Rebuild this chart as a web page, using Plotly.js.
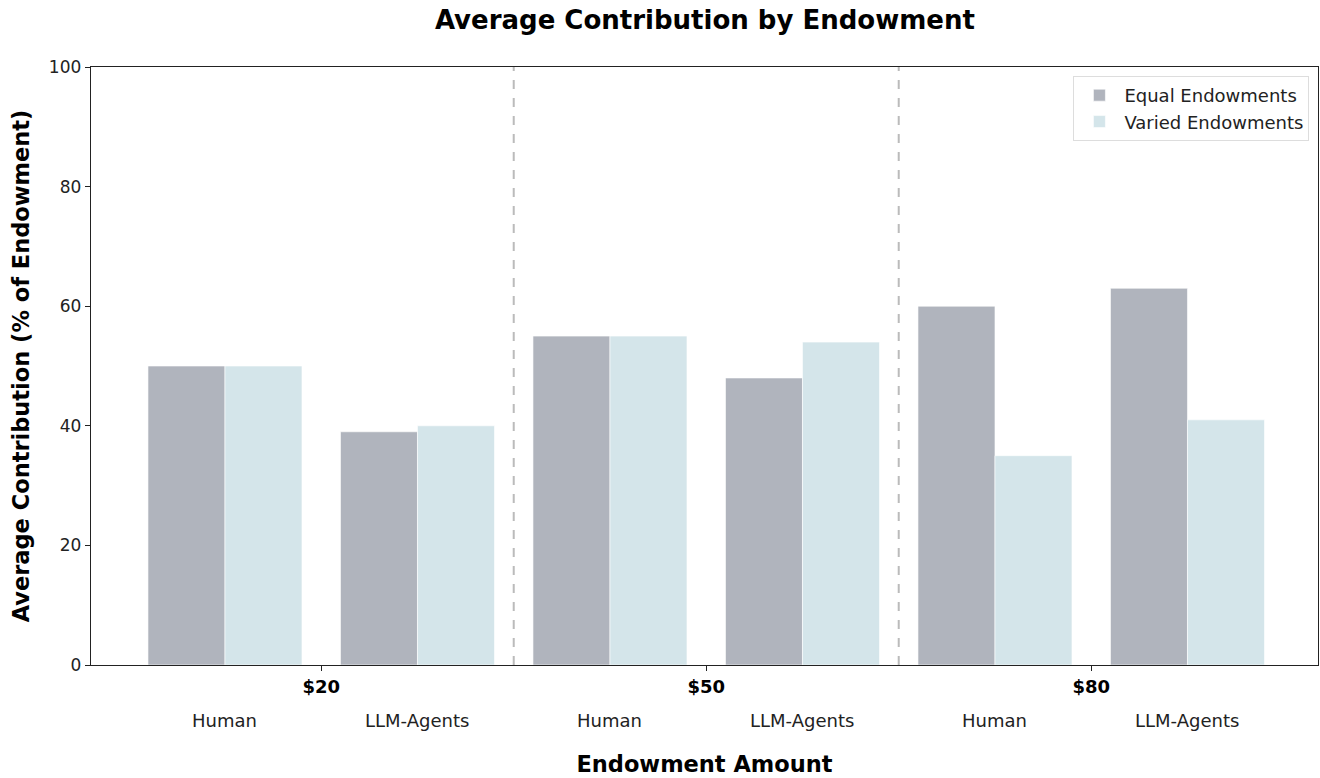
<!DOCTYPE html>
<html>
<head>
<meta charset="utf-8">
<script src="https://cdn.plot.ly/plotly-3.0.1.min.js"></script>
<style>html,body{margin:0;padding:0;background:#fff;}#chart{width:1320px;height:778px;}</style>
</head>
<body>
<div id="chart"></div>
<script>
const endowments = ["$20", "$50", "$80"];
const subgroups = ["Human", "LLM-Agents"];
const equalValues = [50, 39, 55, 48, 60, 63];
const variedValues = [50, 40, 55, 54, 35, 41];
const seriesNames = ["Equal Endowments", "Varied Endowments"];

const positions = [];
const subLabels = [];
endowments.forEach((e, gi) => subgroups.forEach((s, si) => { positions.push(gi * 2 + si); subLabels.push(s); }));
const groupCenters = endowments.map((e, gi) => gi * 2 + 0.5);
const separators = endowments.slice(1).map((e, gi) => gi * 2 + 1.5);

const barW = 0.4;
const font = "DejaVu Sans, sans-serif";

const traces = [
  {type: "bar", name: seriesNames[0], x: positions.map(p => p - barW / 2), y: equalValues, width: barW,
   marker: {color: "#b0b4bd", line: {color: "rgba(255,255,255,0.6)", width: 1}}},
  {type: "bar", name: seriesNames[1], x: positions.map(p => p + barW / 2), y: variedValues, width: barW,
   marker: {color: "#d4e5ea", line: {color: "rgba(255,255,255,0.6)", width: 1}}}
];

const shapes = separators.map(x => ({type: "line", xref: "x", yref: "paper", x0: x, x1: x, y0: 0, y1: 1,
  line: {color: "#bbbbbb", width: 2, dash: "dash"}}));

const annotations = positions.map((p, i) => ({x: p, y: -0.092, xref: "x", yref: "paper", text: subLabels[i],
  showarrow: false, font: {family: font, size: 18, color: "#222"}, yanchor: "middle"}));

const layout = {
  width: 1320, height: 778,
  margin: {l: 91, r: 2, t: 67, b: 113},
  paper_bgcolor: "#fff", plot_bgcolor: "#fff",
  title: {text: "<b>Average Contribution by Endowment</b>", x: 0.534, xanchor: "center", y: 0.975, yanchor: "middle",
    font: {family: font, size: 26, color: "#000"}},
  barmode: "overlay",
  bargap: 0,
  showlegend: true,
  legend: {x: 0.993, xanchor: "right", y: 0.985, yanchor: "top", bgcolor: "#fff", bordercolor: "#dddddd", borderwidth: 1,
    font: {family: font, size: 18, color: "#222"}, traceorder: "normal", itemwidth: 40},
  xaxis: {range: [-0.696, 5.678], tickmode: "array", tickvals: groupCenters,
    ticktext: endowments.map(e => "<b>" + e + "</b>"), ticks: "outside", ticklen: 5, tickcolor: "#222",
    showline: true, linecolor: "#222", linewidth: 1.3, mirror: true, showgrid: false, zeroline: false,
    tickfont: {family: font, size: 18, color: "#000"},
    title: {text: "<b>Endowment Amount</b>", font: {family: font, size: 22.5, color: "#000"}, standoff: 60}},
  yaxis: {range: [0, 100], tickvals: [0, 20, 40, 60, 80, 100], ticks: "outside", ticklen: 5, tickcolor: "#222",
    showline: true, linecolor: "#222", linewidth: 1.3, mirror: true, showgrid: false, zeroline: false,
    tickfont: {family: font, size: 17, color: "#222"},
    title: {text: "<b>Average Contribution (% of Endowment)</b>", font: {family: font, size: 22.5, color: "#000"}, standoff: 13}},
  shapes: shapes,
  annotations: annotations
};

Plotly.newPlot("chart", traces, layout, {displayModeBar: false, staticPlot: true});
</script>
</body>
</html>
